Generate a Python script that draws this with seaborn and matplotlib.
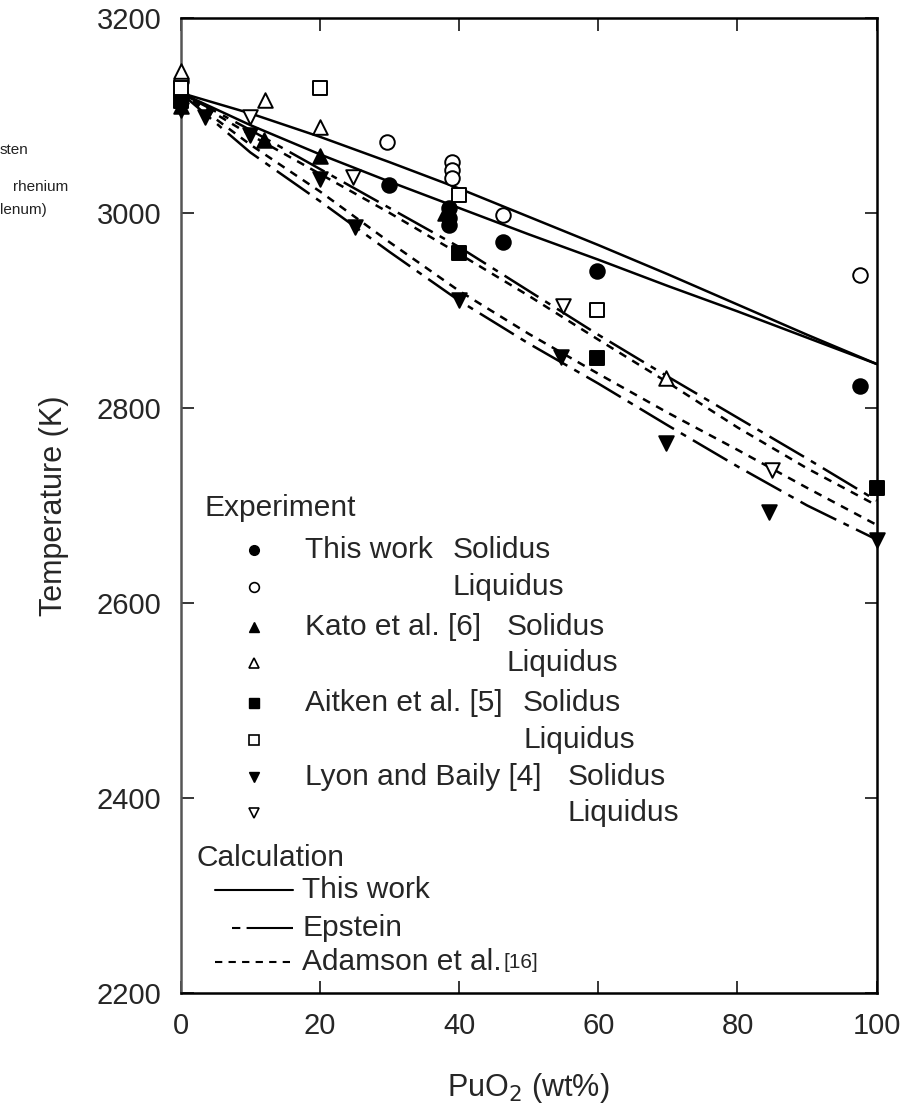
import matplotlib
matplotlib.use("Agg")
import matplotlib.pyplot as plt
import seaborn as sns

# experiment data (wt% PuO2, K)
this_sol_x = [0, 30, 38.5, 38.5, 38.5, 46.3, 59.8, 97.6]
this_sol_T = [3120, 3029, 3005, 2995, 2988, 2970, 2940, 2822]
this_liq_x = [0, 29.7, 39, 39, 39, 46.3, 97.6]
this_liq_T = [3135, 3073, 3052, 3044, 3036, 2998, 2936]
kato_sol_x = [0, 12, 20, 38]
kato_sol_T = [3110, 3075, 3058, 3000]
kato_liq_x = [0, 12.1, 20, 69.8]
kato_liq_T = [3145, 3116, 3088, 2831]
aitken_sol_x = [0, 40, 59.8, 100]
aitken_sol_T = [3115, 2959, 2851, 2718]
aitken_liq_x = [0, 20, 40, 59.8]
aitken_liq_T = [3128, 3128, 3018, 2900]
lyon_sol_x = [0, 3.5, 10, 20, 25, 40, 54.7, 69.8, 84.6, 100]
lyon_sol_T = [3105, 3098, 3080, 3035, 2985, 2911, 2852, 2764, 2693, 2665]
lyon_liq_x = [10, 24.7, 54.9, 84.9]
lyon_liq_T = [3098, 3037, 2904, 2736]

# calculations
calc_x = [0, 10, 20, 30, 40, 50, 60, 70, 80, 90, 100]
this_liq_calc = [3123, 3102, 3078, 3052, 3025, 2996, 2967, 2937, 2906, 2875, 2845]
this_sol_calc = [3123, 3090, 3060, 3032, 3005, 2978, 2952, 2925, 2899, 2872, 2845]
eps_liq = [3123, 3085, 3045, 3005, 2965, 2920, 2875, 2832, 2790, 2748, 2705]
eps_sol = [3123, 3062, 3012, 2960, 2910, 2866, 2825, 2782, 2740, 2700, 2665]
ada_liq = [3123, 3080, 3040, 3000, 2958, 2915, 2870, 2826, 2780, 2738, 2700]
ada_sol = [3123, 3070, 3022, 2970, 2920, 2876, 2835, 2795, 2757, 2718, 2680]

sns.set_theme(style="ticks")
plt.rcParams["font.family"] = ["Liberation Sans", "DejaVu Sans"]

fig = plt.figure(figsize=(9.17, 11.12), dpi=100)
ax = fig.add_axes([0.197, 0.107, 0.759, 0.877])

lw = 1.8
eps_ls = (0, (16, 3.2, 2.4, 3.2))
ada_ls = (0, (3.2, 2.8))

for yv in [this_liq_calc, this_sol_calc]:
    sns.lineplot(x=calc_x, y=yv, ax=ax, color="black", lw=lw, sort=False, estimator=None)
for yv in [eps_liq, eps_sol]:
    sns.lineplot(x=calc_x, y=yv, ax=ax, color="black", lw=lw, linestyle=eps_ls, sort=False, estimator=None)
for yv in [ada_liq, ada_sol]:
    sns.lineplot(x=calc_x, y=yv, ax=ax, color="black", lw=lw, linestyle=ada_ls, sort=False, estimator=None)

series = [
    (this_sol_x, this_sol_T, "o", True),
    (this_liq_x, this_liq_T, "o", False),
    (kato_sol_x, kato_sol_T, "^", True),
    (kato_liq_x, kato_liq_T, "^", False),
    (aitken_sol_x, aitken_sol_T, "s", True),
    (aitken_liq_x, aitken_liq_T, "s", False),
    (lyon_sol_x, lyon_sol_T, "v", True),
    (lyon_liq_x, lyon_liq_T, "v", False),
]
for xs, ts, m, filled in series:
    sns.scatterplot(x=xs, y=ts, ax=ax, marker=m, s=110,
                    color="black" if filled else "white",
                    edgecolor="black", linewidth=1.4, zorder=5, clip_on=False)

ax.set_xlim(0, 100)
ax.set_ylim(2200, 3200)
ax.set_xticks([0, 20, 40, 60, 80, 100])
ax.set_yticks([2200, 2400, 2600, 2800, 3000, 3200])
ax.tick_params(direction="in", length=9, width=1.3, labelsize=21,
               top=True, right=True, pad=14)
for s in ax.spines.values():
    s.set_linewidth(1.8)
    s.set_color("black")
ax.spines["left"].set_color("#555555")
ax.set_xlabel("PuO$_2$ (wt%)", fontsize=22, labelpad=22)
ax.set_ylabel("Temperature (K)", fontsize=22, labelpad=20)

# legend drawn by hand
fs = 21.5
tr = ax.transAxes
ax.text(0.0345, 0.497, "Experiment", transform=tr, fontsize=fs, va="center")
rows_y = [0.4544, 0.4164, 0.3754, 0.3385, 0.2974, 0.2595, 0.2215, 0.1846]
names = ["This work", "Kato et al. [6]", "Aitken et al. [5]", "Lyon and Baily [4]"]
col_x = [0.391, 0.468, 0.492, 0.556]
marks = ["o", "^", "s", "v"]
for i in range(4):
    ys, yl = rows_y[2 * i], rows_y[2 * i + 1]
    ax.plot([0.106], [ys], marker=marks[i], ms=7, color="black", transform=tr, clip_on=False)
    ax.plot([0.106], [yl], marker=marks[i], ms=7, mfc="white", mec="black", mew=1.2,
            transform=tr, clip_on=False)
    ax.text(0.178, ys, names[i], transform=tr, fontsize=fs, va="center")
    ax.text(col_x[i], ys, "Solidus", transform=tr, fontsize=fs, va="center")
    ax.text(col_x[i], yl, "Liquidus", transform=tr, fontsize=fs, va="center")

ax.text(0.023, 0.1385, "Calculation", transform=tr, fontsize=fs, va="center")
ax.plot([0.049, 0.161], [0.1056, 0.1056], color="black", lw=1.5, transform=tr)
ax.plot([0.074, 0.161], [0.0667, 0.0667], color="black", lw=1.5,
        linestyle=(0, (4, 3, 25, 3)), transform=tr)
ax.plot([0.049, 0.161], [0.0318, 0.0318], color="black", lw=1.5,
        linestyle=(0, (3.5, 3)), transform=tr)
ax.text(0.175, 0.1056, "This work", transform=tr, fontsize=fs, va="center")
ax.text(0.175, 0.0667, "Epstein", transform=tr, fontsize=fs, va="center")
ada = ax.text(0.175, 0.0318, "Adamson et al.", transform=tr, fontsize=fs, va="center")
ax.annotate("[16]", xy=(1.0, 0.5), xycoords=ada, xytext=(1, 0), textcoords="offset points",
            fontsize=15, va="center", ha="left")

# cut-off text from a neighbouring panel
fig.text(0.0, 1 - 150 / 1112, "sten", fontsize=11, va="center", color="#222222")
fig.text(13 / 917, 1 - 187 / 1112, "rhenium", fontsize=11, va="center", color="#222222")
fig.text(0.0, 1 - 210 / 1112, "lenum)", fontsize=11, va="center", color="#222222")

plt.savefig("out.png", dpi=100)
